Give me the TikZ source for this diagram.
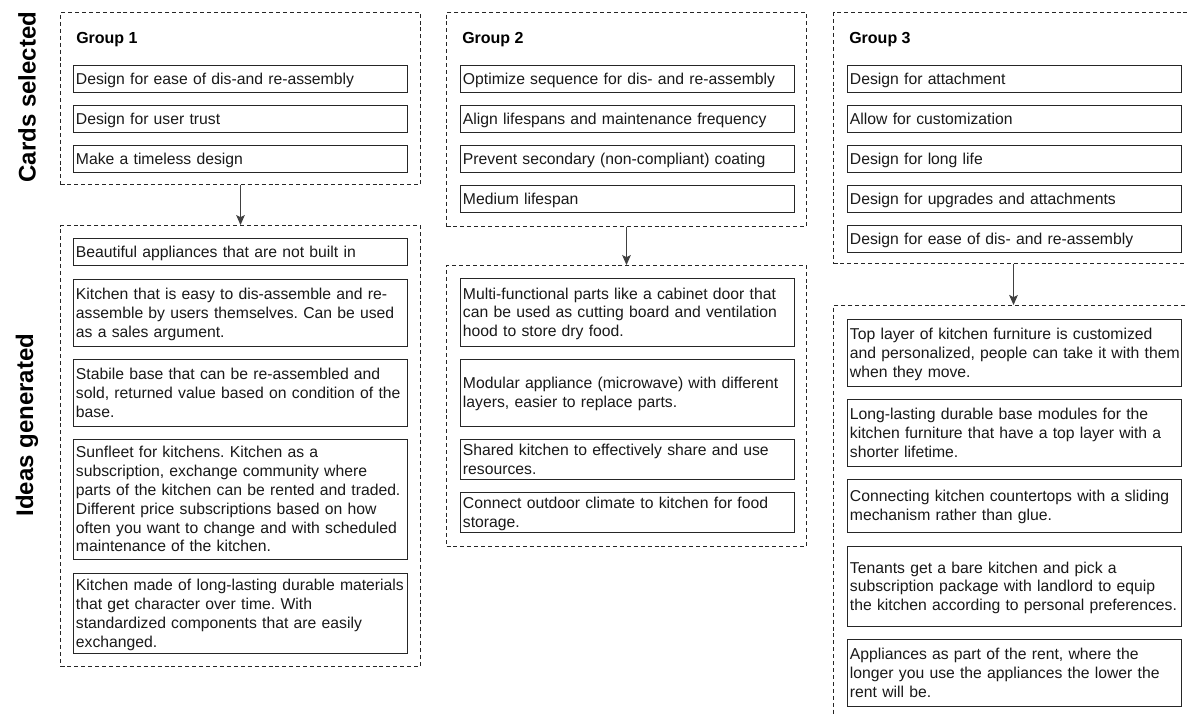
\documentclass[tikz,border=0pt]{standalone}
\usepackage{fontspec}
\setmainfont{Liberation Sans}
\usetikzlibrary{arrows.meta}
\frenchspacing
\newcommand\cardlines[1]{\raisebox{-1.1pt}[\height][\depth]{\begin{tabular}{@{}l@{}}#1\end{tabular}}}
\tikzset{
  card/.style={draw=black!85, line width=0.9pt, anchor=north west, text width=247pt,
    inner xsep=1.75pt, inner ysep=0pt, align=left,
    font=\fontsize{11.8}{14.1}\selectfont, text=black!90},
  container/.style={draw=black!85, line width=0.75pt, dash pattern=on 3pt off 2.2pt,
    anchor=north west, minimum width=270pt, inner sep=0pt},
  grouplabel/.style={anchor=west, inner sep=0pt, font=\fontsize{12}{14}\selectfont\bfseries},
  sidelabel/.style={rotate=90, inner sep=0pt, font=\fontsize{18}{20}\selectfont\bfseries},
  flow/.style={draw=black!75, line width=0.75pt, -{Stealth[length=7.5pt,width=6.5pt,inset=1.6pt]}}
}
\begin{document}
\begin{tikzpicture}[x=0.75pt,y=-0.75pt]
\useasboundingbox (0,0) rectangle (1187,715);
\clip (0,0) rectangle (1187,715);
\fill[white] (0,0) rectangle (1187,715);

% side labels
\node[sidelabel] (lcards) at (27,97) {Cards selected};
\node[sidelabel] (lideas) at (27,425) {Ideas generated};

% ---------- Group 1 ----------
\node[container, minimum height=129pt] (g1top) at (60,12) {};
\node[grouplabel] (g1lab) at (76,40) {Group 1};
\node[card, minimum height=20.25pt] (g1a) at (73,65) {\cardlines{Design for ease of dis-and re-assembly}};
\node[card, minimum height=20.25pt] (g1b) at (73,105) {\cardlines{Design for user trust}};
\node[card, minimum height=20.25pt] (g1c) at (73,145) {\cardlines{Make a timeless design}};

\node[container, minimum height=330.75pt] (g1bot) at (60,225) {};
\node[card, minimum height=20.25pt] (g1i1) at (73,238) {\cardlines{Beautiful appliances that are not built in}};
\node[card, minimum height=50.25pt] (g1i2) at (73,279) {\cardlines{Kitchen that is easy to dis-assemble and re-\\assemble by users themselves. Can be used\\as a sales argument.}};
\node[card, minimum height=50.25pt] (g1i3) at (73,359) {\cardlines{Stabile base that can be re-assembled and\\sold, returned value based on condition of the\\base.}};
\node[card, minimum height=90pt] (g1i4) at (73,439) {\cardlines{Sunfleet for kitchens. Kitchen as a\\subscription, exchange community where\\parts of the kitchen can be rented and traded.\\Different price subscriptions based on how\\often you want to change and with scheduled\\maintenance of the kitchen.}};
\node[card, minimum height=60pt] (g1i5) at (73,573) {\cardlines{Kitchen made of long-lasting durable materials\\that get character over time. With\\standardized components that are easily\\exchanged.}};

\draw[flow] (g1top.south) -- (g1bot.north);

% ---------- Group 2 ----------
\node[container, minimum height=160.5pt] (g2top) at (446,12) {};
\node[grouplabel] (g2lab) at (462,40) {Group 2};
\node[card, minimum height=20.25pt] (g2a) at (460,65) {\cardlines{Optimize sequence for dis- and re-assembly}};
\node[card, minimum height=20.25pt] (g2b) at (460,105) {\cardlines{Align lifespans and maintenance frequency}};
\node[card, minimum height=20.25pt] (g2c) at (460,145) {\cardlines{Prevent secondary (non-compliant) coating}};
\node[card, minimum height=20.25pt] (g2d) at (460,185) {\cardlines{Medium lifespan}};

\node[container, minimum height=210.75pt] (g2bot) at (446,265) {};
\node[card, minimum height=51pt] (g2i1) at (460,278) {\cardlines{Multi-functional parts like a cabinet door that\\can be used as cutting board and ventilation\\hood to store dry food.}};
\node[card, minimum height=50.25pt] (g2i2) at (460,359) {\cardlines{Modular appliance (microwave) with different\\layers, easier to replace parts.}};
\node[card, minimum height=30pt] (g2i3) at (460,439) {\cardlines{Shared kitchen to effectively share and use\\resources.}};
\node[card, minimum height=30pt] (g2i4) at (460,492) {\cardlines{Connect outdoor climate to kitchen for food\\storage.}};

\draw[flow] (g2top.south) -- (g2bot.north);

% ---------- Group 3 ----------
\node[container, minimum height=188.25pt] (g3top) at (833,12) {};
\node[grouplabel] (g3lab) at (849,40) {Group 3};
\node[card, minimum height=20.25pt] (g3a) at (847,65) {\cardlines{Design for attachment}};
\node[card, minimum height=20.25pt] (g3b) at (847,105) {\cardlines{Allow for customization}};
\node[card, minimum height=20.25pt] (g3c) at (847,145) {\cardlines{Design for long life}};
\node[card, minimum height=20.25pt] (g3d) at (847,185) {\cardlines{Design for upgrades and attachments}};
\node[card, minimum height=20.25pt] (g3e) at (847,225) {\cardlines{Design for ease of dis- and re-assembly}};

\node[container, minimum height=311.25pt] (g3bot) at (833,305) {};
\node[card, minimum height=50.25pt] (g3i1) at (847,319) {\cardlines{Top layer of kitchen furniture is customized\\and personalized, people can take it with them\\when they move.}};
\node[card, minimum height=50.25pt] (g3i2) at (847,399) {\cardlines{Long-lasting durable base modules for the\\kitchen furniture that have a top layer with a\\shorter lifetime.}};
\node[card, minimum height=39.75pt] (g3i3) at (847,479) {\cardlines{Connecting kitchen countertops with a sliding\\mechanism rather than glue.}};
\node[card, minimum height=60pt] (g3i4) at (847,546) {\cardlines{Tenants get a bare kitchen and pick a\\subscription package with landlord to equip\\the kitchen according to personal preferences.}};
\node[card, minimum height=50.25pt] (g3i5) at (847,639) {\cardlines{Appliances as part of the rent, where the\\longer you use the appliances the lower the\\rent will be.}};

\draw[flow] (g3top.south) -- (g3bot.north);
\end{tikzpicture}
\end{document}
